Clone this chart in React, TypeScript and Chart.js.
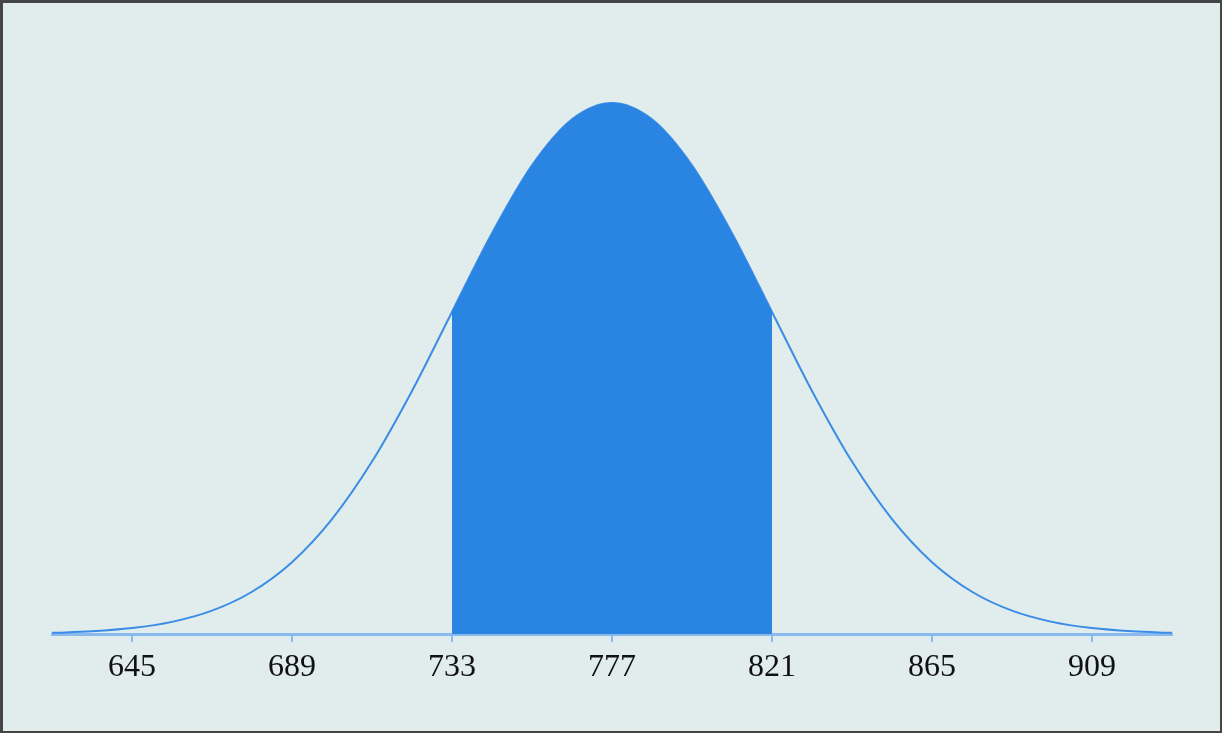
import React, { useEffect, useRef } from "react";
import { Chart, registerables } from "chart.js";

Chart.register(...registerables);

// x positions of sampled curve points (mean 777, sd 44)
const xValues = [
  623, 634, 645, 656, 667, 678, 689, 700, 711, 722, 733, 744, 755, 766, 777,
  788, 799, 810, 821, 832, 843, 854, 865, 876, 887, 898, 909, 920, 931,
];
// relative curve heights (peak = 1)
const curveHeights = [
  0.0022, 0.0051, 0.0111, 0.0228, 0.0439, 0.0796, 0.1353, 0.2163, 0.3247,
  0.4578, 0.6065, 0.7548, 0.8825, 0.9692, 1.0, 0.9692, 0.8825, 0.7548, 0.6065,
  0.4578, 0.3247, 0.2163, 0.1353, 0.0796, 0.0439, 0.0228, 0.0111, 0.0051,
  0.0022,
];
const shadeFrom = 733;
const shadeTo = 821;
const tickValues = [645, 689, 733, 777, 821, 865, 909];

export default function App() {
  const canvasRef = useRef<HTMLCanvasElement | null>(null);

  useEffect(() => {
    document.body.style.margin = "0";
    const ctx = canvasRef.current;
    if (!ctx) return;
    const curve = xValues.map((x, i) => ({ x, y: curveHeights[i] }));
    const shaded = curve.filter((p) => p.x >= shadeFrom && p.x <= shadeTo);
    const chart = new Chart(ctx, {
      type: "line",
      data: {
        datasets: [
          {
            data: shaded,
            borderColor: "#2a84e2",
            backgroundColor: "#2a84e2",
            borderWidth: 0,
            fill: "origin",
            pointRadius: 0,
            cubicInterpolationMode: "monotone",
          },
          {
            data: curve,
            borderColor: "#3a8ce6",
            borderWidth: 2,
            fill: false,
            pointRadius: 0,
            cubicInterpolationMode: "monotone",
            clip: false,
          },
        ],
      },
      options: {
        animation: false,
        responsive: false,
        maintainAspectRatio: false,
        layout: { padding: { left: 49, right: 48, top: 100, bottom: 0 } },
        plugins: { legend: { display: false }, tooltip: { enabled: false } },
        scales: {
          x: {
            type: "linear",
            min: 623,
            max: 931,
            afterBuildTicks: (scale: any) => {
              scale.ticks = tickValues.map((v) => ({ value: v }));
            },
            afterFit: (scale: any) => {
              scale.height = 97;
            },
            grid: {
              drawOnChartArea: false,
              drawTicks: true,
              tickLength: 8,
              color: "#8ab9ee",
              lineWidth: 2,
            },
            border: { color: "#8ab9ee", width: 3 },
            ticks: {
              color: "#111111",
              padding: 6,
              maxRotation: 0,
              autoSkip: false,
              font: { family: "'Liberation Serif', serif", size: 32 },
              callback: (v: any) => String(v),
            },
          },
          y: {
            display: false,
            min: 0,
            max: 1,
          },
        },
      },
    });
    return () => chart.destroy();
  }, []);

  return (
    <div
      style={{
        position: "fixed",
        left: 0,
        top: 0,
        width: 1222,
        height: 733,
        boxSizing: "border-box",
        borderStyle: "solid",
        borderColor: "#444444",
        borderWidth: "3px 2px 2px 3px",
        background: "#e1eded",
      }}
    >
      <canvas ref={canvasRef} width={1217} height={728} style={{ display: "block" }} />
    </div>
  );
}
